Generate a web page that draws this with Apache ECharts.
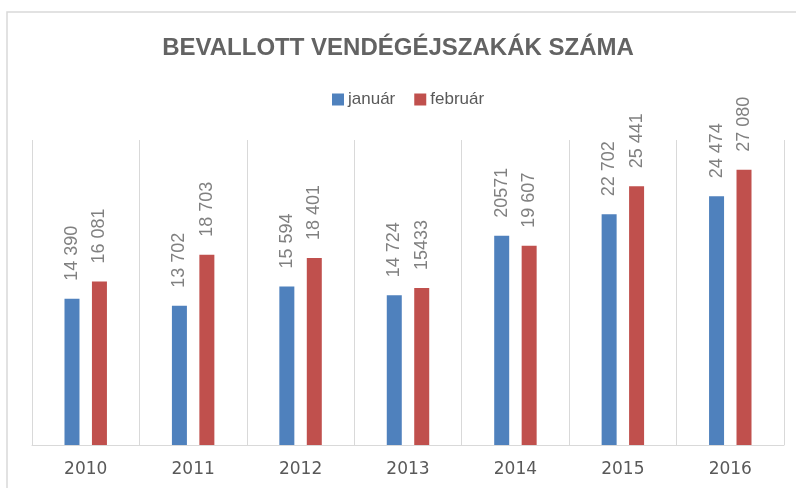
<!DOCTYPE html>
<html>
<head>
<meta charset="utf-8">
<script src="https://cdn.jsdelivr.net/npm/echarts@6/dist/echarts.min.js"></script>
<style>
  html, body { margin: 0; padding: 0; background: #fff; }
  #chart { width: 796px; height: 488px; }
</style>
</head>
<body>
<div id="chart"></div>
<script>
// évek
const years = ['2010', '2011', '2012', '2013', '2014', '2015', '2016']
// január értékek
const janValues = [14390, 13702, 15594, 14724, 20571, 22702, 24474]
const janLabels = ['14 390', '13 702', '15 594', '14 724', '20571', '22 702', '24 474']
// február értékek
const febValues = [16081, 18703, 18401, 15433, 19607, 25441, 27080]
const febLabels = ['16 081', '18 703', '18 401', '15433', '19 607', '25 441', '27 080']

const myChart = echarts.init(document.getElementById('chart'))

function labelOf(list) {
  return {
    show: true,
    position: 'top',
    rotate: 90,
    align: 'left',
    verticalAlign: 'middle',
    distance: 18,
    color: '#808080',
    fontSize: 18,
    fontFamily: 'Liberation Sans',
    formatter: function (p) {
      return list[p.dataIndex]
    }
  }
}

const option = {
  animation: false,
  graphic: [{
    type: 'rect',
    shape: { x: 7, y: 12, width: 820, height: 520 },
    style: { fill: 'none', stroke: '#d9d9d9', lineWidth: 1.5 },
    silent: true
  }],
  title: {
    text: 'BEVALLOTT VENDÉGÉJSZAKÁK SZÁMA',
    left: 'center',
    top: 31,
    textStyle: {
      fontFamily: 'Liberation Sans',
      fontSize: 24,
      fontWeight: 'bold',
      color: '#636363'
    }
  },
  legend: {
    top: 86,
    left: 327,
    itemWidth: 12,
    itemHeight: 12,
    itemGap: 19,
    icon: 'rect',
    textStyle: {
      fontFamily: 'Liberation Sans',
      fontSize: 17,
      color: '#595959',
      padding: [0, 0, 0, -1]
    },
    data: ['január', 'február']
  },
  grid: {
    left: 32,
    right: 12,
    top: 140,
    bottom: 43,
    containLabel: false
  },
  xAxis: {
    type: 'category',
    data: years,
    axisLine: { show: true, lineStyle: { color: '#d9d9d9', width: 1 } },
    axisTick: { show: false },
    splitLine: { show: true, lineStyle: { color: '#d9d9d9', width: 1 } },
    axisLabel: {
      margin: 16,
      color: '#595959',
      fontSize: 17,
      fontFamily: 'DejaVu Sans'
    }
  },
  yAxis: {
    type: 'value',
    min: 0,
    max: 30000,
    show: false,
    splitLine: { show: false }
  },
  series: [
    {
      name: 'január',
      type: 'bar',
      data: janValues,
      barWidth: 15,
      barGap: '83%',
      itemStyle: { color: '#4f81bd' },
      label: labelOf(janLabels)
    },
    {
      name: 'február',
      type: 'bar',
      data: febValues,
      barWidth: 15,
      itemStyle: { color: '#c0504d' },
      label: labelOf(febLabels)
    }
  ]
}

myChart.setOption(option)
</script>
</body>
</html>
